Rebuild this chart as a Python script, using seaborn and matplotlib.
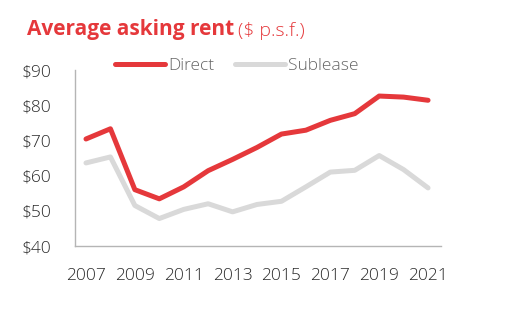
import matplotlib
matplotlib.use("Agg")
import matplotlib.pyplot as plt
import seaborn as sns
import pandas as pd

years = list(range(2007, 2022))
direct = [70.4, 73.3, 56.0, 53.4, 56.8, 61.4, 64.6, 68.0, 71.8, 72.9, 75.7, 77.6, 82.6, 82.3, 81.4]
sublease = [63.6, 65.3, 51.5, 47.8, 50.4, 52.0, 49.7, 51.8, 52.7, 56.8, 61.0, 61.5, 65.7, 61.7, 56.5]
series_names = ["Direct", "Sublease"]
colors = ["#e5383b", "#d9d9d9"]
yticks = [40, 50, 60, 70, 80, 90]
xticks = list(range(2007, 2022, 2))

df = pd.DataFrame({
    "year": years * 2,
    "value": direct + sublease,
    "series": [series_names[0]] * len(years) + [series_names[1]] * len(years),
})

sns.set_theme(style="white")
plt.rcParams["font.family"] = ["Open Sans", "DejaVu Sans"]

fig = plt.figure(figsize=(5.12, 3.35), dpi=100)
ax = fig.add_axes([75 / 512, 1 - 246 / 335, 366 / 512, 176 / 335])

sns.lineplot(data=df, x="year", y="value", hue="series", palette=colors,
             linewidth=3.6, ax=ax, legend=True)
for line in ax.lines:
    line.set_solid_joinstyle("round")
    line.set_solid_capstyle("round")

ax.set_xlim(2006.55, 2021.53)
ax.set_ylim(40, 90)
ax.set_xticks(xticks)
ax.set_yticks(yticks)
ax.set_yticklabels([f"${v}" for v in yticks])
ax.set_xlabel("")
ax.set_ylabel("")
ax.tick_params(axis="both", length=0, labelsize=12.5, labelcolor="#2a2a2a")
ax.tick_params(axis="y", pad=17)
ax.tick_params(axis="x", pad=16)
for lab in ax.get_xticklabels() + ax.get_yticklabels():
    lab.set_fontweight("light")
for s in ["top", "right"]:
    ax.spines[s].set_visible(False)
for s in ["left", "bottom"]:
    ax.spines[s].set_color("#b5b5b5")
    ax.spines[s].set_linewidth(1.0)

leg = ax.legend(loc="upper left", bbox_to_anchor=(40 / 366, 1.07), ncol=2, frameon=False,
                fontsize=12.5, handlelength=2.9, handletextpad=0.15, columnspacing=1.2,
                borderaxespad=0, borderpad=0)
for t in leg.get_texts():
    t.set_color("#666666")
    t.set_fontweight("light")
for h in leg.get_lines():
    h.set_linewidth(3.6)
    h.set_solid_capstyle("round")

t1 = fig.text(27 / 512, 1 - 35 / 335, "Average asking rent", fontsize=15,
              fontweight="bold", color="#e5383b", ha="left", va="baseline")
ax.annotate("($ p.s.f.)", xy=(1, 0), xycoords=t1, xytext=(3, 0), textcoords="offset points",
            fontsize=14, fontweight="light", color="#e5383b", ha="left", va="bottom",
            annotation_clip=False)

fig.savefig("out.png", dpi=100)
